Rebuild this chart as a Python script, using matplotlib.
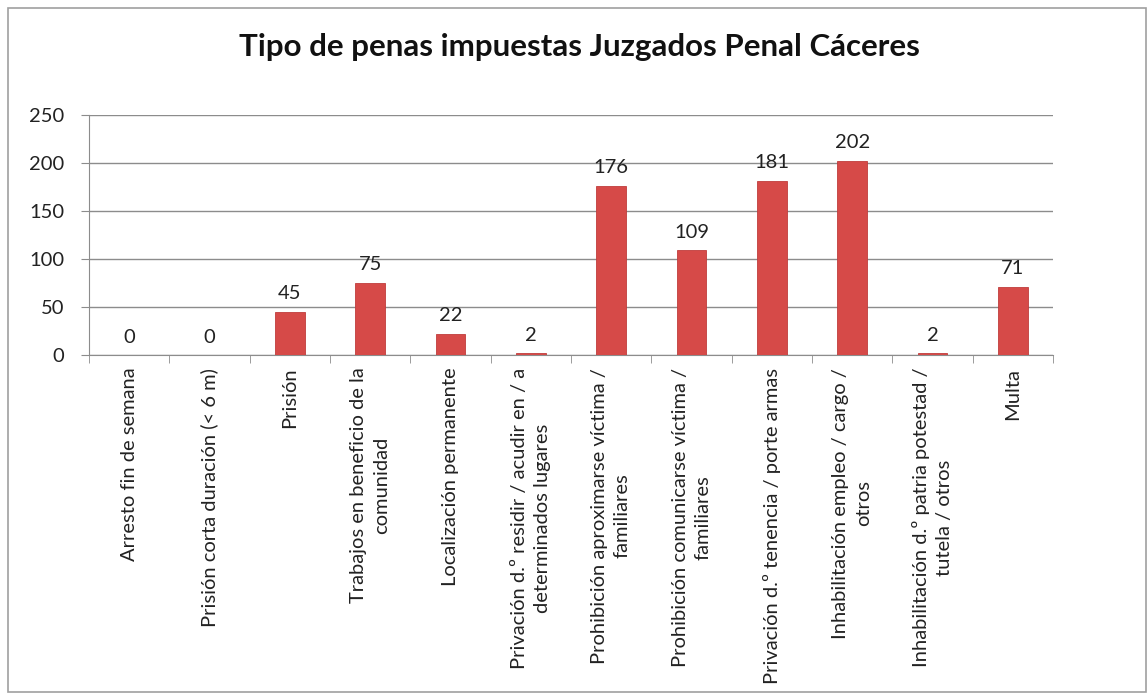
import matplotlib.pyplot as plt
import numpy as np
from matplotlib.patches import Rectangle

plt.rcParams['font.family'] = ['Lato', 'DejaVu Sans']

categorias = [
    'Arresto fin de semana',
    'Prisión corta duración (< 6 m)',
    'Prisión',
    'Trabajos en beneficio de la\ncomunidad',
    'Localización permanente',
    'Privación d.º residir / acudir en / a\ndeterminados lugares',
    'Prohibición aproximarse víctima /\nfamiliares',
    'Prohibición comunicarse víctima /\nfamiliares',
    'Privación d.º tenencia / porte armas',
    'Inhabilitación empleo / cargo /\notros',
    'Inhabilitación d.º patria potestad /\ntutela / otros',
    'Multa',
]
valores = [0, 0, 45, 75, 22, 2, 176, 109, 181, 202, 2, 71]
yticks = [0, 50, 100, 150, 200, 250]

fig = plt.figure(figsize=(11.47, 6.95), dpi=100)
ax = fig.add_axes([0.0776, 0.489, 0.8404, 0.346])

x = np.arange(len(categorias))
ax.bar(x, valores, width=0.37, color='#d64a48', edgecolor='#c03c3c', linewidth=0.6, zorder=3)
for xi, v in zip(x, valores):
    ax.text(xi, v + 10, str(v), ha='center', va='bottom', fontsize=14.5, color='#222222')

ax.set_xlim(-0.5, len(categorias) - 0.5)
ax.set_ylim(0, 250)
ax.set_yticks(yticks)
ax.set_yticklabels([str(t) for t in yticks], fontsize=14.5, color='#222222')
ax.yaxis.grid(True, color='#8c8c8c', linewidth=1.0, zorder=0)

ax.set_xticks(x)
ax.set_xticklabels(categorias, rotation=90, fontsize=14.5, color='#222222', va='top', ha='center',
                   linespacing=1.4)
ax.tick_params(axis='x', length=0, pad=9)
ax.set_xticks(np.arange(len(categorias) + 1) - 0.5, minor=True)
ax.tick_params(axis='x', which='minor', length=6, color='#8c8c8c')
ax.tick_params(axis='y', length=6, color='#8c8c8c', pad=12)

for s in ['top', 'right']:
    ax.spines[s].set_visible(False)
ax.spines['left'].set_color('#8c8c8c')
ax.spines['bottom'].set_color('#8c8c8c')

fig.text(0.505, 0.932, 'Tipo de penas impuestas Juzgados Penal Cáceres',
         ha='center', va='center', fontsize=22.5, fontweight='bold', color='#111111')

fig.patches.append(Rectangle((0.007, 0.004), 0.992, 0.984, transform=fig.transFigure,
                             fill=False, edgecolor='#a0a0a0', linewidth=1.2))

plt.savefig('out.png', dpi=100)
